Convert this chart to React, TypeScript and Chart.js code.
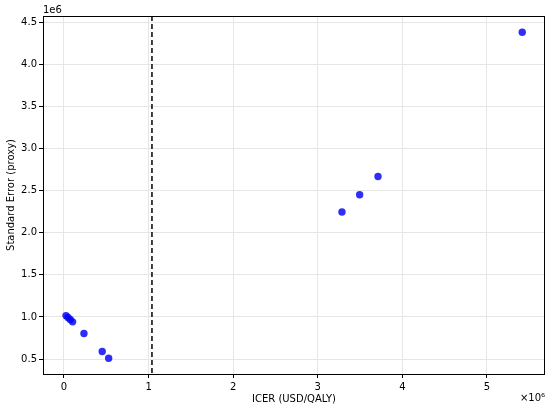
import React, { useEffect, useRef } from "react";
import { Chart, registerables } from "chart.js";

Chart.register(...registerables);

const icer = [24000, 47000, 74000, 102000, 236000, 452000, 528000, 3286000, 3495000, 3712000, 5417000];
const standardError = [1016000, 993000, 969000, 942000, 803000, 589000, 509000, 2247000, 2453000, 2670000, 4384000];
const threshold = 1040000;
const xTickValues = [0, 1000000, 2000000, 3000000, 4000000, 5000000];
const yTickValues = [500000, 1000000, 1500000, 2000000, 2500000, 3000000, 3500000, 4000000, 4500000];
const xRange = [-248000, 5686000];
const yRange = [322000, 4577000];

const FONT = "'DejaVu Sans', sans-serif";

const extrasPlugin = {
  id: "extras",
  afterDatasetsDraw(chart: any) {
    const { ctx, chartArea, scales } = chart;
    ctx.save();
    // threshold line
    const x = scales.x.getPixelForValue(threshold);
    ctx.strokeStyle = "#000";
    ctx.lineWidth = 1.5;
    ctx.setLineDash([5, 3]);
    ctx.beginPath();
    ctx.moveTo(x, chartArea.top);
    ctx.lineTo(x, chartArea.bottom);
    ctx.stroke();
    ctx.setLineDash([]);
    // frame
    ctx.lineWidth = 1;
    ctx.strokeRect(chartArea.left + 0.5, chartArea.top + 0.5, chartArea.right - chartArea.left - 1, chartArea.bottom - chartArea.top);
    // offset texts
    ctx.fillStyle = "#000";
    ctx.font = `10px ${FONT}`;
    ctx.textBaseline = "middle";
    ctx.textAlign = "left";
    ctx.fillText("1e6", chartArea.left, chartArea.top - 6);
    ctx.textAlign = "right";
    ctx.fillText("×10⁶", chartArea.right, 398);
    ctx.restore();
  },
};

export default function App() {
  const ref = useRef<HTMLCanvasElement | null>(null);
  useEffect(() => {
    if (!ref.current) return;
    const chart = new Chart(ref.current, {
      type: "scatter",
      data: {
        datasets: [
          {
            data: icer.map((v, i) => ({ x: v, y: standardError[i] })),
            backgroundColor: "rgba(0,0,245,0.82)",
            borderColor: "rgba(0,0,245,0.82)",
            borderWidth: 0,
            pointRadius: 3.7,
          },
        ],
      },
      options: {
        animation: false,
        responsive: false,
        maintainAspectRatio: false,
        layout: { padding: { left: 0, top: 16, right: 5, bottom: 0 } },
        plugins: { legend: { display: false }, tooltip: { enabled: false } },
        scales: {
          x: {
            type: "linear",
            min: xRange[0],
            max: xRange[1],
            afterBuildTicks: (s: any) => {
              s.ticks = xTickValues.map((v) => ({ value: v }));
            },
            afterFit: (s: any) => {
              s.height = 36;
            },
            grid: { color: "#e6e6e6", tickColor: "#000", tickLength: 4, drawTicks: true },
            border: { display: false },
            ticks: {
              color: "#000",
              padding: 3,
              font: { family: FONT, size: 10 },
              maxRotation: 0,
              callback: (v: any) => String(Number(v) / 1e6),
            },
            title: {
              display: true,
              text: "ICER (USD/QALY)",
              color: "#000",
              font: { family: FONT, size: 10 },
              padding: { top: 0, bottom: 5 },
            },
          },
          y: {
            type: "linear",
            min: yRange[0],
            max: yRange[1],
            afterBuildTicks: (s: any) => {
              s.ticks = yTickValues.map((v) => ({ value: v }));
            },
            afterFit: (s: any) => {
              s.width = 43;
            },
            grid: { color: "#e6e6e6", tickColor: "#000", tickLength: 4, drawTicks: true },
            border: { display: false },
            ticks: {
              color: "#000",
              padding: 2,
              font: { family: FONT, size: 10 },
              callback: (v: any) => (Number(v) / 1e6).toFixed(1),
            },
            title: {
              display: true,
              text: "Standard Error (proxy)",
              color: "#000",
              font: { family: FONT, size: 10 },
              padding: { top: 5, bottom: 0 },
            },
          },
        },
      },
      plugins: [extrasPlugin],
    } as any);
    return () => chart.destroy();
  }, []);
  return (
    <div style={{ position: "fixed", left: 0, top: 0, width: 550, height: 410, background: "#fff" }}>
      <canvas ref={ref} width={550} height={410} />
    </div>
  );
}
